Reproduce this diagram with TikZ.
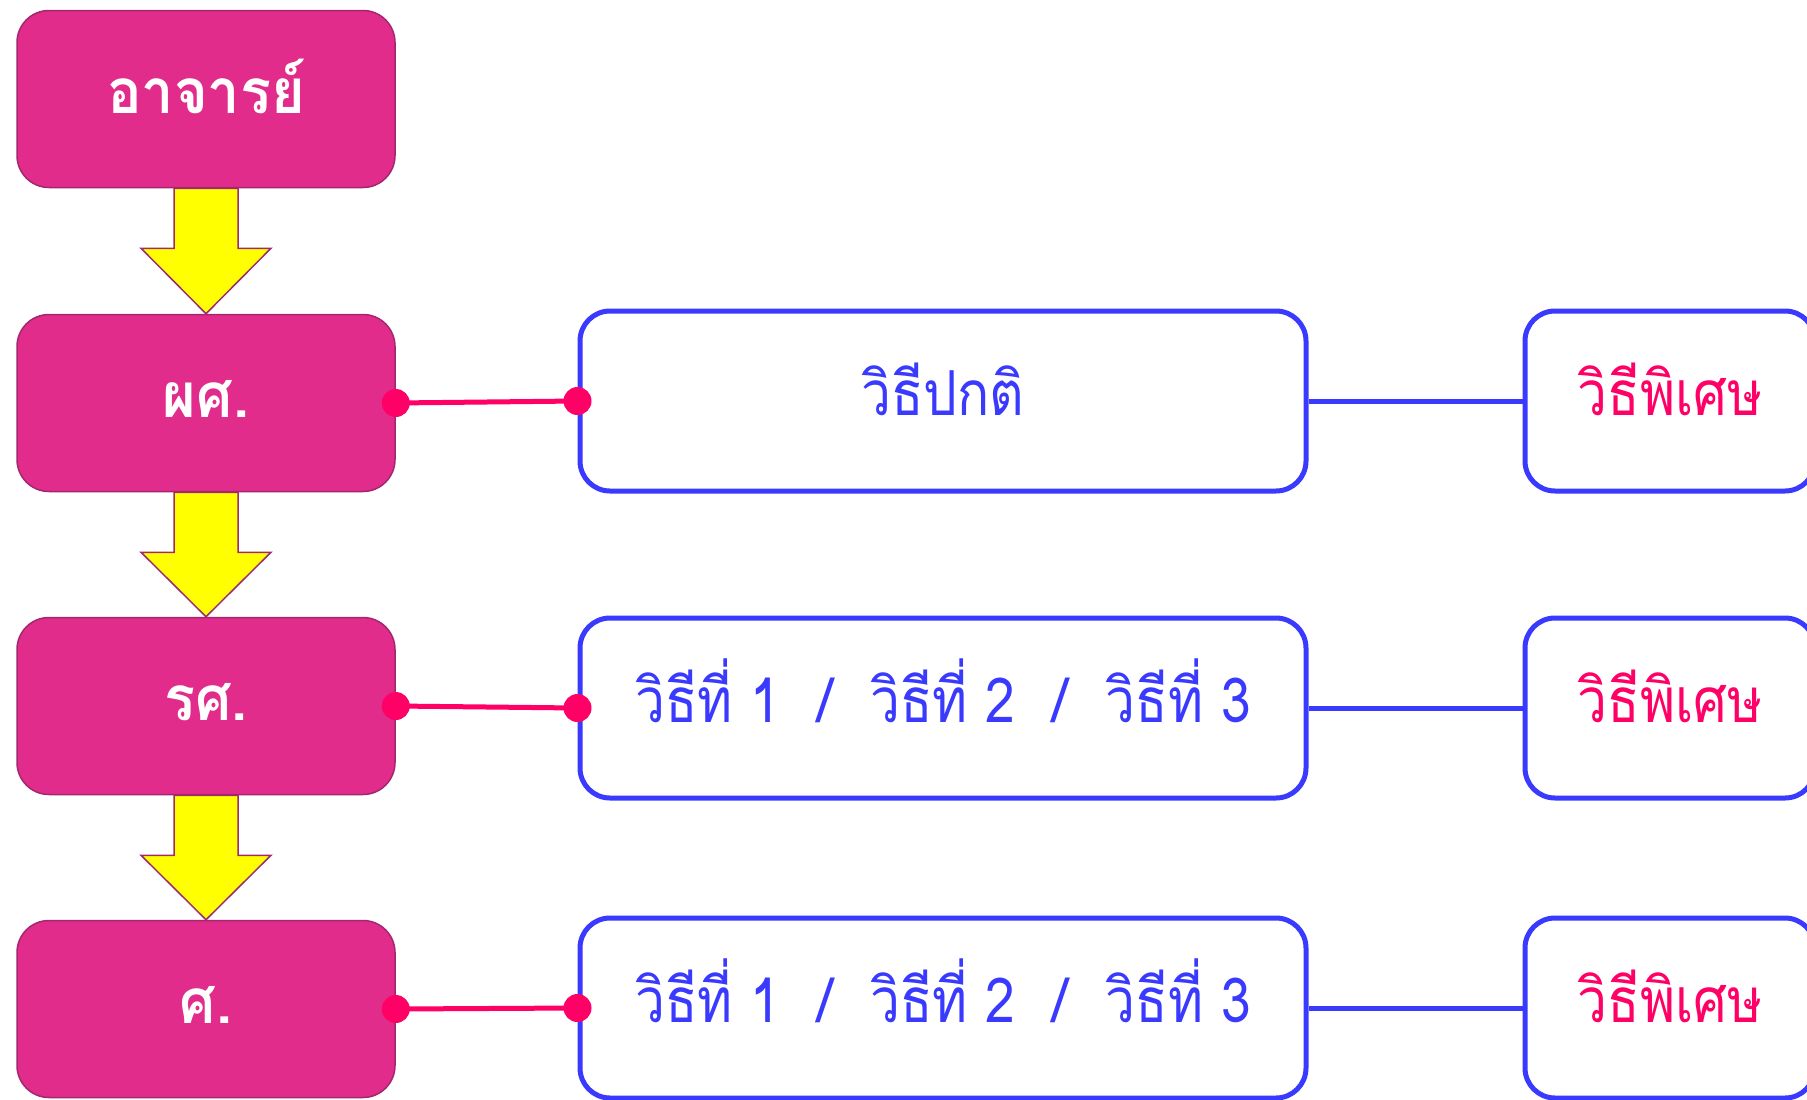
\documentclass[tikz,border=0pt]{standalone}
\usepackage{fontspec}
\newfontfamily\thaifont[Script=Thai,FakeStretch=0.86,BoldFeatures={FakeStretch=0.93}]{Loma}
\usetikzlibrary{positioning,calc}
\definecolor{RankPink}{HTML}{E22C8C}
\definecolor{RankEdge}{HTML}{A3276F}
\definecolor{MethodBlue}{HTML}{3A3AFF}
\definecolor{DotRed}{HTML}{FF0066}
\definecolor{ArrowYellow}{HTML}{FFFF00}
\definecolor{ArrowEdge}{HTML}{9E2B6E}

\begin{document}
\begin{tikzpicture}[x=1pt,y=-1pt,
  rank/.style={draw=RankEdge, line width=1.5pt, fill=RankPink, rounded corners=32pt,
    minimum width=378pt, minimum height=177pt, text=white, text height=40pt, text depth=12pt,
    font=\thaifont\bfseries\fontsize{62}{68}\selectfont},
  method/.style={draw=MethodBlue, line width=5pt, fill=white, rounded corners=30pt,
    minimum width=726pt, minimum height=180pt, text=MethodBlue, text height=40pt, text depth=12pt,
    font=\thaifont\fontsize{62}{68}\selectfont},
  special/.style={method, minimum width=290pt, text=DotRed},
  link/.style={DotRed, line width=5pt},
  bar/.style={MethodBlue, line width=5pt},
  dot/.style={circle, fill=DotRed, inner sep=0pt, minimum size=28pt},
  down/.style={fill=ArrowYellow, draw=ArrowEdge, line width=1.5pt}]
  \useasboundingbox (0,0) rectangle (1807,1100);
  % ranks
  \node[rank] (teacher) at (206,99) {อาจารย์};
  \node[rank] (asst) at (206,403) {ผศ.};
  \node[rank] (assoc) at (206,706) {รศ.};
  \node[rank] (full) at (206,1009) {ศ.};
  % yellow arrows between ranks
  \foreach \a/\b in {teacher/asst, asst/assoc, assoc/full}
    \draw[down] ($(\a.south)+(-32,0)$) -- ($(\a.south)+(32,0)$) -- ($(\a.south)+(32,60)$)
      -- ($(\a.south)+(65,60)$) -- (\b.north) -- ($(\a.south)+(-65,60)$)
      -- ($(\a.south)+(-32,60)$) -- cycle;
  % methods
  \node[method] (norm1) at (943,401) {วิธีปกติ};
  \node[method] (norm2) at (943,708) {วิธีที่ 1\hspace{0.6em}/\hspace{0.6em}วิธีที่ 2\hspace{0.6em}/\hspace{0.6em}วิธีที่ 3};
  \node[method] (norm3) at (943,1008) {วิธีที่ 1\hspace{0.6em}/\hspace{0.6em}วิธีที่ 2\hspace{0.6em}/\hspace{0.6em}วิธีที่ 3};
  \node[special] (spec1) at (1670,401) {วิธีพิเศษ};
  \node[special] (spec2) at (1670,708) {วิธีพิเศษ};
  \node[special] (spec3) at (1670,1008) {วิธีพิเศษ};
  % connectors
  \foreach \r/\m/\s in {asst/norm1/spec1, assoc/norm2/spec2, full/norm3/spec3} {
    \draw[bar] (\m.east) -- (\s.west);
    \draw[link] (\r.east) -- (\m.west);
    \node[dot] at (\r.east) {};
    \node[dot] at (\m.west) {};
  }
\end{tikzpicture}
\end{document}
